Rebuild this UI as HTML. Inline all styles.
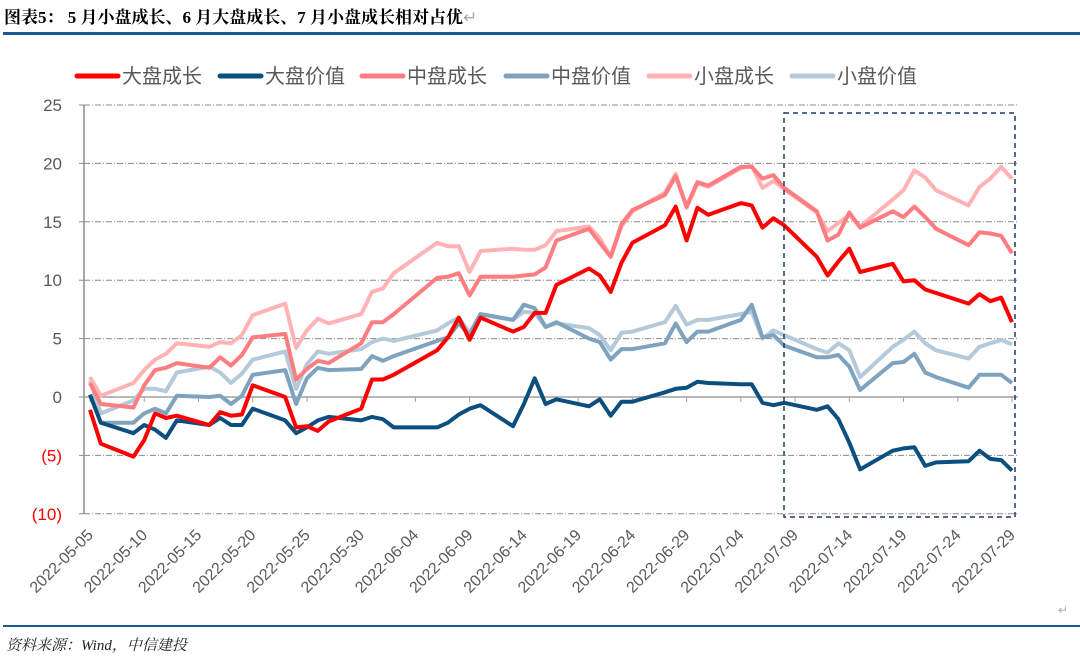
<!DOCTYPE html>
<html><head><meta charset="utf-8"><style>
html,body{margin:0;padding:0;background:#fff;width:1080px;height:664px;overflow:hidden}
svg{display:block;font-family:"Liberation Sans","Noto Sans CJK SC",sans-serif}
</style></head><body>
<svg id="chart" width="1080" height="664" viewBox="0 0 1080 664">
<text x="4" y="23" font-size="17" font-weight="bold" fill="#000" font-family="Liberation Serif, Noto Serif CJK SC, serif">图表5： 5 月小盘成长、6 月大盘成长、7 月小盘成长相对占优<tspan fill="#aaa" font-weight="normal">↵</tspan></text>
<rect x="3" y="32" width="1077" height="3" fill="#1B5A8E"/>
<rect x="3" y="625" width="1077" height="2" fill="#1B5A8E"/>
<text x="6" y="650" font-size="15" font-style="italic" fill="#222" font-family="Liberation Serif, Noto Serif CJK SC, serif">资料来源：Wind，中信建投</text>
<text x="1058" y="614" font-size="12" fill="#aaa">↵</text>
<g id="grid"></g><g id="axes"></g><g id="series"></g><g id="legend"></g>
<rect x="784" y="113" width="231" height="404" fill="none" stroke="#1F3864" stroke-width="1.5" stroke-dasharray="5,4"/>
</svg>
<script>
const seriesNames=["大盘成长","大盘价值","中盘成长","中盘价值","小盘成长","小盘价值"];
const seriesColors=["#FF0000","#0B4F7E","#FF7C80","#7FA3BF","#FFB3B5","#B4C9D9"];
const dates=["2022-05-05","2022-05-06","2022-05-09","2022-05-10","2022-05-11","2022-05-12","2022-05-13","2022-05-16","2022-05-17","2022-05-18","2022-05-19","2022-05-20","2022-05-23","2022-05-24","2022-05-25","2022-05-26","2022-05-27","2022-05-30","2022-05-31","2022-06-01","2022-06-02","2022-06-06","2022-06-07","2022-06-08","2022-06-09","2022-06-10","2022-06-13","2022-06-14","2022-06-15","2022-06-16","2022-06-17","2022-06-20","2022-06-21","2022-06-22","2022-06-23","2022-06-24","2022-06-27","2022-06-28","2022-06-29","2022-06-30","2022-07-01","2022-07-04","2022-07-05","2022-07-06","2022-07-07","2022-07-08","2022-07-11","2022-07-12","2022-07-13","2022-07-14","2022-07-15","2022-07-18","2022-07-19","2022-07-20","2022-07-21","2022-07-22","2022-07-25","2022-07-26","2022-07-27","2022-07-28","2022-07-29"];
const largeGrowth=[-1.1,-4.0,-5.1,-3.7,-1.4,-1.8,-1.6,-2.4,-1.3,-1.6,-1.5,1.0,0,-2.6,-2.5,-2.9,-2.1,-1.0,1.5,1.5,1.9,4.0,5.1,6.8,4.9,6.8,5.6,6.0,7.2,7.2,9.6,11.0,10.4,9.0,11.5,13.2,14.7,16.3,13.4,16.2,15.6,16.6,16.4,14.5,15.3,14.7,12.0,10.4,11.6,12.7,10.7,11.4,9.9,10.0,9.2,8.9,8.0,8.8,8.2,8.5,6.4];
const largeValue=[0.2,-2.2,-3.1,-2.4,-2.8,-3.5,-2.0,-2.4,-1.8,-2.4,-2.4,-1.0,-2.0,-3.1,-2.6,-2.0,-1.7,-2.0,-1.7,-1.9,-2.6,-2.6,-2.2,-1.5,-1.0,-0.7,-2.5,-0.6,1.6,-0.6,-0.2,-0.8,-0.2,-1.6,-0.4,-0.4,0.4,0.7,0.8,1.3,1.2,1.1,1.1,-0.5,-0.7,-0.5,-1.1,-0.8,-1.9,-3.9,-6.2,-4.6,-4.4,-4.3,-5.9,-5.6,-5.5,-4.6,-5.3,-5.4,-6.3];
const midGrowth=[1.2,-0.6,-0.9,1.0,2.3,2.5,2.9,2.5,3.4,2.7,3.6,5.1,5.4,1.5,2.4,3.1,2.9,4.6,6.4,6.4,7.1,10.2,10.3,10.6,8.7,10.3,10.3,10.4,10.5,11.1,13.4,14.4,13.2,12.0,14.8,16.0,17.3,18.9,16.3,18.4,18.1,19.7,19.7,18.7,19.0,17.9,15.9,13.4,13.9,15.8,14.5,15.9,15.4,16.3,15.4,14.4,13.0,14.1,14.0,13.8,12.3];
const midValue=[0.2,-2.2,-2.2,-1.4,-1.0,-1.4,0.1,0,0.1,-0.6,0.1,1.9,2.3,-0.6,1.6,2.5,2.3,2.4,3.5,3.1,3.5,4.8,5.1,6.3,5.3,7.1,6.6,7.9,7.6,6.0,6.4,5.0,4.7,3.2,4.1,4.1,4.6,6.3,4.7,5.6,5.6,6.6,7.9,5.1,5.3,4.4,3.4,3.4,3.6,2.6,0.6,2.9,3.0,3.7,2.1,1.7,0.8,1.9,1.9,1.9,1.2];
const smallGrowth=[1.7,0.1,1.2,2.3,3.2,3.7,4.6,4.3,4.7,4.6,5.3,7.0,8.0,4.2,5.7,6.7,6.3,7.1,9.0,9.3,10.6,13.2,12.9,12.9,10.7,12.5,12.7,12.6,12.6,13.0,14.2,14.6,13.6,12.0,14.6,15.9,17.5,19.1,16.2,18.3,18.0,19.6,19.8,17.9,18.5,17.8,15.8,14.2,14.9,15.6,14.6,16.9,17.7,19.4,18.8,17.7,16.4,18.0,18.7,19.7,18.7];
const smallValue=[1.4,-1.4,-0.3,0.7,0.7,0.5,2.1,2.6,2.1,1.2,2.0,3.2,3.9,0.7,2.8,3.9,3.7,4.1,4.7,5.0,4.8,5.7,6.3,6.8,5.5,7.1,6.6,7.3,7.2,6.0,6.3,5.9,5.3,4.0,5.5,5.6,6.4,7.8,6.2,6.6,6.6,7.1,7.3,5.0,5.7,5.3,4.1,3.8,4.6,4.0,1.7,4.3,4.9,5.6,4.6,4.0,3.3,4.3,4.6,4.9,4.5];
const yTicks=[25,20,15,10,5,0,-5,-10];
const xTickLabels=["2022-05-05","2022-05-10","2022-05-15","2022-05-20","2022-05-25","2022-05-30","2022-06-04","2022-06-09","2022-06-14","2022-06-19","2022-06-24","2022-06-29","2022-07-04","2022-07-09","2022-07-14","2022-07-19","2022-07-24","2022-07-29"];

const NS="http://www.w3.org/2000/svg";
const X0=90,X1=1012,Y0=397,PPU=11.68;
const t0=Date.parse("2022-05-05"),t1=Date.parse("2022-07-29");
function xs(d){return X0+(Date.parse(d)-t0)/(t1-t0)*(X1-X0);}
function ys(v){return Y0-v*PPU;}
function mk(tag,attrs,parent){const e=document.createElementNS(NS,tag);for(const k in attrs)e.setAttribute(k,attrs[k]);parent.appendChild(e);return e;}
const grid=document.getElementById('grid'),axes=document.getElementById('axes'),ser=document.getElementById('series'),leg=document.getElementById('legend');

yTicks.forEach(v=>{
  if(v!==0){const l=mk('line',{x1:84,x2:1018,y1:ys(v),y2:ys(v),stroke:'#8c8c8c','stroke-width':1,'stroke-dasharray':'6,2,1,2'},grid);
  
  }
  const tk=mk('line',{x1:79,x2:84,y1:ys(v),y2:ys(v),stroke:'#8c8c8c'},axes);
  
  
  const t=mk('text',{x:62,y:ys(v)+6,'text-anchor':'end','font-size':17,fill:v<0?'#FF0000':'#595959'},axes);
  
  
  t.textContent=v<0?'('+(-v)+')':String(v);
});
const ya=mk('line',{x1:84,x2:84,y1:ys(25),y2:ys(-10),stroke:'#8c8c8c','stroke-width':1.5},axes);


const xa=mk('line',{x1:84,x2:1018,y1:Y0,y2:Y0,stroke:'#a0a0a0','stroke-width':1.5},axes);


xTickLabels.forEach(d=>{
  const x=xs(d);
  const tk=mk('line',{x1:x,x2:x,y1:Y0,y2:Y0+5,stroke:'#a0a0a0'},axes);
  
  
  const t=mk('text',{x:x+4,y:536,'text-anchor':'end','font-size':16,fill:'#595959',transform:'rotate(-45 '+(x+4)+' 536)'},axes);
  
  
  t.textContent=d;
});
const allSeries=[largeGrowth,largeValue,midGrowth,midValue,smallGrowth,smallValue];
const drawOrder=[5,4,3,2,1,0];
drawOrder.forEach(i=>{
  const pts=allSeries[i].map((v,j)=>xs(dates[j]).toFixed(1)+','+ys(v).toFixed(1)).join(' ');
  const p=mk('polyline',{points:pts,fill:'none',stroke:seriesColors[i],'stroke-width':4,'stroke-linejoin':'round'},ser);
  
  
});
const legX=[77,220,362,506,649,792];
seriesNames.forEach((n,i)=>{
  const g=mk('g',{},leg);
  
  
  mk('line',{x1:legX[i],x2:legX[i]+41,y1:76,y2:76,stroke:seriesColors[i],'stroke-width':5,'stroke-linecap':'round'},g);
  const t=mk('text',{x:legX[i]+45,y:83,'font-size':20,fill:'#595959'},g);
  t.textContent=n;
});
</script>
</body></html>
